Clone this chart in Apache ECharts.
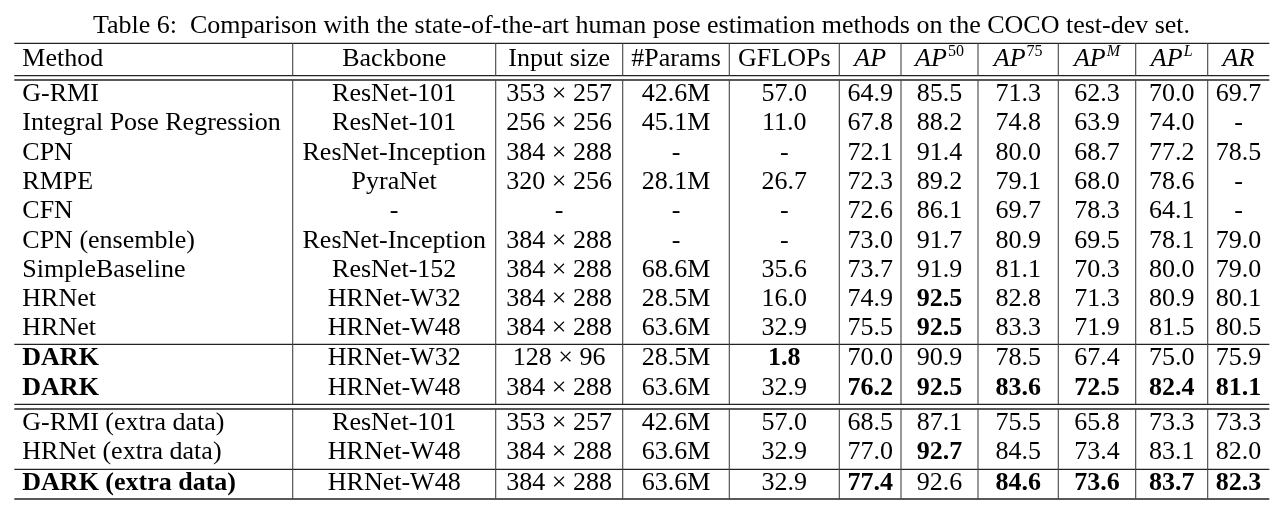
<!DOCTYPE html>
<html>
<head>
<meta charset="utf-8">
<script src="https://cdn.jsdelivr.net/npm/echarts@6/dist/echarts.min.js"></script>
<style>
html, body { margin: 0; background: #fff; }
#table { width: 1283px; height: 524px; }
</style>
</head>
<body>
<div id="table"></div>
<script>
// table contents, one array per column
const methods = ['G-RMI', 'Integral Pose Regression', 'CPN', 'RMPE', 'CFN', 'CPN (ensemble)', 'SimpleBaseline', 'HRNet', 'HRNet',
  'DARK', 'DARK', 'G-RMI (extra data)', 'HRNet (extra data)', 'DARK (extra data)']
const backbones = ['ResNet-101', 'ResNet-101', 'ResNet-Inception', 'PyraNet', '-', 'ResNet-Inception', 'ResNet-152', 'HRNet-W32', 'HRNet-W48',
  'HRNet-W32', 'HRNet-W48', 'ResNet-101', 'HRNet-W48', 'HRNet-W48']
const inputSizes = ['353 × 257', '256 × 256', '384 × 288', '320 × 256', '-', '384 × 288', '384 × 288', '384 × 288', '384 × 288',
  '128 × 96', '384 × 288', '353 × 257', '384 × 288', '384 × 288']
const params = ['42.6M', '45.1M', '-', '28.1M', '-', '-', '68.6M', '28.5M', '63.6M', '28.5M', '63.6M', '42.6M', '63.6M', '63.6M']
const gflops = [57.0, 11.0, null, 26.7, null, null, 35.6, 16.0, 32.9, 1.8, 32.9, 57.0, 32.9, 32.9]
const ap   = [64.9, 67.8, 72.1, 72.3, 72.6, 73.0, 73.7, 74.9, 75.5, 70.0, 76.2, 68.5, 77.0, 77.4]
const ap50 = [85.5, 88.2, 91.4, 89.2, 86.1, 91.7, 91.9, 92.5, 92.5, 90.9, 92.5, 87.1, 92.7, 92.6]
const ap75 = [71.3, 74.8, 80.0, 79.1, 69.7, 80.9, 81.1, 82.8, 83.3, 78.5, 83.6, 75.5, 84.5, 84.6]
const apM  = [62.3, 63.9, 68.7, 68.0, 78.3, 69.5, 70.3, 71.3, 71.9, 67.4, 72.5, 65.8, 73.4, 73.6]
const apL  = [70.0, 74.0, 77.2, 78.6, 64.1, 78.1, 80.0, 80.9, 81.5, 75.0, 82.4, 73.3, 83.1, 83.7]
const ar   = [69.7, null, 78.5, null, null, 79.0, 79.0, 80.1, 80.5, 75.9, 81.1, 73.3, 82.0, 82.3]

// header: main text + optional superscript
const headerMain = ['Method', 'Backbone', 'Input size', '#Params', 'GFLOPs', 'AP', 'AP', 'AP', 'AP', 'AP', 'AR']
const headerSup  = ['', '', '', '', '', '', '50', '75', 'M', 'L', '']

// [row, column] of the bold entries
const boldCells = [[7, 6], [8, 6], [9, 0], [9, 4], [10, 0], [10, 5], [10, 6], [10, 7], [10, 8], [10, 9], [10, 10],
  [12, 6], [13, 0], [13, 5], [13, 7], [13, 8], [13, 9], [13, 10]]

const title = 'Table 6:  Comparison with the state-of-the-art human pose estimation methods on the COCO test-dev set.'

// layout (axis units == px)
const colEdges = [14.3, 292.7, 495.7, 622.7, 729.3, 839.3, 901, 978, 1058.3, 1135.7, 1207.7, 1269.3]
const hRules = [43.3, 75.7, 80, 344.3, 404.3, 409, 469.3, 499]
const vSpans = [[43.3, 75.7], [80, 404.3], [409, 499]]
const blockTops = [80, 344.3, 409, 469.3]
const blockRows = [9, 2, 2, 1]
const rowPitch = 29.3
const baseOff = 21
const headerBase = 65.7
const FONT = 'Liberation Serif'
const FS = 26
const SUP_FS = 16
const MID = 0.3375 * FS - 2   // baseline -> middle shift

const columns = [methods, backbones, inputSizes, params, gflops, ap, ap50, ap75, apM, apL, ar]

function fmt(v) {
  if (v === null || v === undefined) return '-'
  return typeof v === 'number' ? v.toFixed(1) : v
}

function textWidth(str, font) {
  return new echarts.graphic.Text({ style: { text: str, font: font } }).getBoundingRect().width
}

// baseline of every row
const rowBase = []
blockRows.forEach(function (n, b) {
  for (let k = 0; k < n; k++) rowBase.push(blockTops[b] + baseOff + k * rowPitch)
})

const isBold = {}
boldCells.forEach(function (p) { isBold[p[0] + '_' + p[1]] = true })

const cells = []
headerMain.forEach(function (h, c) { cells.push([c, -1]) })
columns.forEach(function (col, c) {
  col.forEach(function (v, r) { cells.push([c, r]) })
})

const mychart = echarts.init(document.getElementById('table'))

const option = {
  animation: false,
  backgroundColor: '#fff',
  title: {
    text: title,
    left: 'center',
    top: 13.5,
    padding: 0,
    textStyle: { fontFamily: FONT, fontSize: FS, fontWeight: 'normal', color: '#000', lineHeight: FS }
  },
  grid: { left: 0, right: 0, top: 0, bottom: 0 },
  xAxis: { type: 'value', min: 0, max: 1283, show: false },
  yAxis: { type: 'value', min: 0, max: 524, inverse: true, show: false },
  series: [
    {
      // horizontal rules
      type: 'custom',
      silent: true,
      clip: false,
      data: hRules.map(function (y) { return [0, y] }),
      renderItem: function (params, api) {
        const y = api.value(1)
        const p0 = api.coord([colEdges[0], y])
        const p1 = api.coord([colEdges[colEdges.length - 1], y])
        return {
          type: 'line',
          shape: { x1: p0[0], y1: p0[1], x2: p1[0], y2: p1[1] },
          style: { stroke: '#222', lineWidth: 1.3 }
        }
      }
    },
    {
      // vertical rules between columns
      type: 'custom',
      silent: true,
      clip: false,
      data: vSpans.map(function (s, i) { return [i, s[0], s[1]] }),
      renderItem: function (params, api) {
        const y0 = api.value(1), y1 = api.value(2)
        const lines = []
        for (let c = 1; c < colEdges.length - 1; c++) {
          const a = api.coord([colEdges[c], y0])
          const b = api.coord([colEdges[c], y1])
          lines.push({
            type: 'line',
            shape: { x1: a[0], y1: a[1], x2: b[0], y2: b[1] },
            style: { stroke: '#444', lineWidth: 1.1 }
          })
        }
        return { type: 'group', children: lines }
      }
    },
    {
      // cell texts
      type: 'custom',
      silent: true,
      clip: false,
      data: cells,
      renderItem: function (params, api) {
        const c = api.value(0), r = api.value(1)
        const header = r < 0
        const base = header ? headerBase : rowBase[r]
        const left = c === 0
        const xv = left ? colEdges[0] + 8 : (colEdges[c] + colEdges[c + 1]) / 2
        const pt = api.coord([xv, base])
        if (header && c >= 5) {
          // math-style header: italic AP with a superscript
          const mainFont = 'italic ' + FS + 'px "' + FONT + '"'
          const sup = headerSup[c]
          const supFont = (/[A-Z]/.test(sup) ? 'italic ' : '') + SUP_FS + 'px "' + FONT + '"'
          const w1 = textWidth(headerMain[c], mainFont) + (sup ? 1 : 0)
          const w2 = sup ? textWidth(sup, supFont) : 0
          const x0 = pt[0] - (w1 + w2) / 2
          return {
            type: 'group',
            children: [
              {
                type: 'text', x: x0, y: pt[1] - MID,
                style: { text: headerMain[c], font: mainFont, fill: '#000', align: 'left', verticalAlign: 'middle' }
              },
              {
                type: 'text', x: x0 + w1, y: pt[1] - 10 - (0.3375 * SUP_FS - 1),
                style: { text: sup, font: supFont, fill: '#000', align: 'left', verticalAlign: 'middle' }
              }
            ]
          }
        }
        const text = header ? headerMain[c] : fmt(columns[c][r])
        const bold = !header && isBold[r + '_' + c]
        return {
          type: 'text',
          x: pt[0],
          y: pt[1] - MID,
          style: {
            text: text,
            fontFamily: FONT,
            fontSize: FS,
            fontWeight: bold ? 'bold' : 'normal',
            fill: '#000',
            align: left ? 'left' : 'center',
            verticalAlign: 'middle'
          }
        }
      }
    }
  ]
}

mychart.setOption(option, true)
</script>
</body>
</html>
